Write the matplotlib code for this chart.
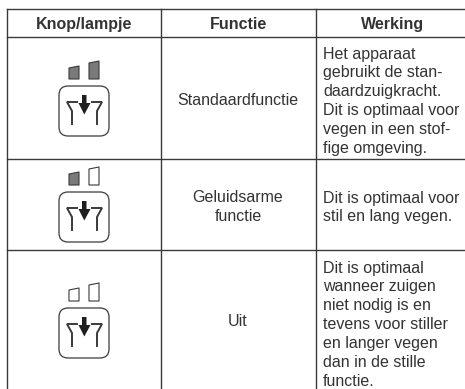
import matplotlib
matplotlib.use("Agg")
import matplotlib.pyplot as plt
from matplotlib.patches import FancyBboxPatch, Polygon

headers = ["Knop/lampje", "Functie", "Werking"]
functions = ["Standaardfunctie", "Geluidsarme\nfunctie", "Uit"]
descriptions = [
    ["Het apparaat", "gebruikt de stan-", "daardzuigkracht.", "Dit is optimaal voor", "vegen in een stof-", "fige omgeving."],
    ["Dit is optimaal voor", "stil en lang vegen."],
    ["Dit is optimaal", "wanneer zuigen", "niet nodig is en", "tevens voor stiller", "en langer vegen", "dan in de stille", "functie."],
]
lamps_on = [(True, True), (True, False), (False, False)]

col_x = [7, 161, 316]
col_centers = [84, 238, 393]
right_edge = 470
row_y = [9, 37, 159, 250]
bottom_edge = 392
icon_top = [86, 192, 308]
function_y = [100, 207, 322]
desc_first = [54, 198, 268]
LINE = "#3a3a3a"
TEXT = "#333333"
FONT = "Liberation Sans"

fig = plt.figure(figsize=(4.65, 3.89), dpi=100)
ax = fig.add_axes([0, 0, 1, 1])
ax.set_xlim(0, 465)
ax.set_ylim(389, 0)
ax.axis("off")

for x in col_x:
    ax.plot([x, x], [row_y[0], bottom_edge], color=LINE, lw=1.0, solid_capstyle="projecting")
for y in row_y:
    ax.plot([col_x[0], right_edge], [y, y], color=LINE, lw=1.0, solid_capstyle="projecting")

for cx, h in zip(col_centers, headers):
    ax.text(cx, 24, h, ha="center", va="center",
            fontsize=11.5, fontweight="bold", family=FONT, color=TEXT)


def icon(top, on):
    left = 59
    ax.add_patch(FancyBboxPatch((left + 7, top + 7), 36, 36, boxstyle="round,pad=7,rounding_size=9",
                                fc="white", ec=LINE, lw=0.9))
    # funnel sides
    ax.plot([left + 18, left + 8, left + 13, left + 13], [top + 16, top + 16, top + 25, top + 38],
            color=LINE, lw=1.4, solid_joinstyle="miter")
    ax.plot([left + 33, left + 43, left + 38, left + 38], [top + 16, top + 16, top + 25, top + 38],
            color=LINE, lw=1.4, solid_joinstyle="miter")
    # arrow
    ax.add_patch(Polygon([(left + 23, top + 9), (left + 27.5, top + 9), (left + 27.5, top + 17),
                          (left + 31.5, top + 17), (left + 25.3, top + 28.5), (left + 19.5, top + 17),
                          (left + 23, top + 17)], closed=True, fc="#1e1e1e", ec="none"))
    # lamps
    base = top - 7
    small = [(left + 10, base), (left + 20, base), (left + 20, base - 13), (left + 10, base - 11)]
    large = [(left + 30, base), (left + 40, base), (left + 40, base - 18), (left + 30, base - 16)]
    for pts, lit in zip((small, large), on):
        ax.add_patch(Polygon(pts, closed=True, fc="#7a7a7a" if lit else "white", ec=LINE, lw=0.8,
                             joinstyle="round"))


for t, on in zip(icon_top, lamps_on):
    icon(t, on)

for y, f in zip(function_y, functions):
    ax.text(col_centers[1], y, f, ha="center", va="center",
            fontsize=11.5, family=FONT, color=TEXT, linespacing=1.29)

for y0, lines in zip(desc_first, descriptions):
    for j, line in enumerate(lines):
        ax.text(323, y0 + j * 18.9, line, ha="left", va="center", fontsize=11.5, family=FONT, color=TEXT)

fig.savefig("out.png", dpi=100)
